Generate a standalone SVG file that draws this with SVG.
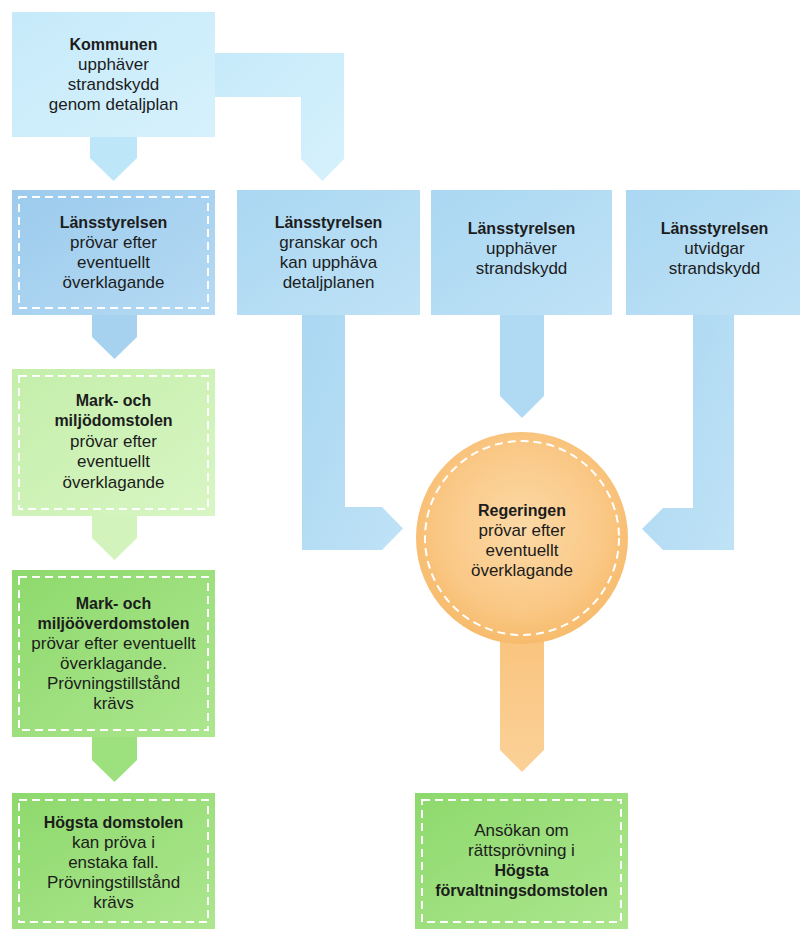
<svg xmlns="http://www.w3.org/2000/svg" width="800" height="929" viewBox="0 0 800 929">
<defs>
<linearGradient id="gKom" x1="0" y1="0" x2="1" y2="1"><stop offset="0" stop-color="#c6eafa"/><stop offset="1" stop-color="#d6f1fc"/></linearGradient>
<linearGradient id="gLan" x1="0" y1="0" x2="1" y2="1"><stop offset="0" stop-color="#aad7f2"/><stop offset="1" stop-color="#bfe2f6"/></linearGradient>
<linearGradient id="gLan1" x1="0" y1="0" x2="1" y2="1"><stop offset="0" stop-color="#9ccbed"/><stop offset="1" stop-color="#b5daf3"/></linearGradient>
<linearGradient id="gGreenL" x1="0" y1="0" x2="1" y2="1"><stop offset="0" stop-color="#c4eeaa"/><stop offset="1" stop-color="#d8f6c4"/></linearGradient>
<linearGradient id="gGreenD" x1="0" y1="0" x2="1" y2="1"><stop offset="0" stop-color="#8dd96c"/><stop offset="1" stop-color="#ade68f"/></linearGradient>
<radialGradient id="gOr" cx="0.5" cy="0.45" r="0.55"><stop offset="0" stop-color="#fcd9a6"/><stop offset="0.7" stop-color="#fac886"/><stop offset="1" stop-color="#f7bb6c"/></radialGradient>
<linearGradient id="gStem" x1="0" y1="0" x2="0" y2="1"><stop offset="0" stop-color="#f9c37c"/><stop offset="1" stop-color="#fbd198"/></linearGradient>
</defs>
<style>
text{font-family:"Liberation Sans",Arial,sans-serif;font-size:17px;fill:#1c1c1c;text-anchor:middle}
.b{font-weight:bold;font-size:16px}
.dash{fill:none;stroke:#ffffff;stroke-width:2;stroke-dasharray:8 5}
</style>
<rect width="800" height="929" fill="#ffffff"/>

<g id="connectors">
<path d="M215,53 H344 V159 L322.5,181 L301,159 V97 H215 Z" fill="url(#gKom)"/>
<polygon points="90,136 137,136 137,158 113.5,181 90,158" fill="#bde6f8"/>
<polygon points="92,315 137,315 137,337 114.5,359 92,337" fill="#a6d2ef"/>
<polygon points="92,515 137,515 137,538 114.5,560 92,538" fill="#d2f4bc"/>
<polygon points="92,737 137,737 137,760 114.5,782 92,760" fill="#9de07e"/>
<path d="M302,315 H345 V507 H382 L403,528.5 L382,550 H302 Z" fill="url(#gLan)"/>
<polygon points="500,315 544,315 544,396 522,418 500,396" fill="#b0d9f3"/>
<path d="M693,315 H734 V550 H663 L642,529 L663,508 H693 Z" fill="url(#gLan)"/>
<polygon points="500,625 544,625 544,750 522,772 500,750" fill="url(#gStem)"/>
</g>

<g id="kommunen">
<rect x="12" y="12" width="203" height="125" fill="url(#gKom)"/>
<text x="113.5" y="50" class="b">Kommunen</text>
<text x="113.5" y="70">upphäver</text>
<text x="113.5" y="90">strandskydd</text>
<text x="113.5" y="110">genom detaljplan</text>
</g>

<g id="lansstyrelsen-provar">
<rect x="12" y="190" width="203" height="125" fill="url(#gLan1)"/>
<rect x="19" y="197" width="189" height="111" class="dash"/>
<text x="113.5" y="227.5" class="b">Länsstyrelsen</text>
<text x="113.5" y="247.5">prövar efter</text>
<text x="113.5" y="267.5">eventuellt</text>
<text x="113.5" y="287.5">överklagande</text>
</g>

<g id="lansstyrelsen-granskar">
<rect x="237" y="190" width="183" height="125" fill="url(#gLan)"/>
<text x="328.5" y="227.5" class="b">Länsstyrelsen</text>
<text x="328.5" y="247.5">granskar och</text>
<text x="328.5" y="267.5">kan upphäva</text>
<text x="328.5" y="287.5">detaljplanen</text>
</g>

<g id="lansstyrelsen-upphaver">
<rect x="431" y="190" width="181" height="125" fill="url(#gLan)"/>
<text x="521.5" y="233.5" class="b">Länsstyrelsen</text>
<text x="521.5" y="253.5">upphäver</text>
<text x="521.5" y="273.5">strandskydd</text>
</g>

<g id="lansstyrelsen-utvidgar">
<rect x="626" y="190" width="174" height="125" fill="url(#gLan)"/>
<text x="714.5" y="233.5" class="b">Länsstyrelsen</text>
<text x="714.5" y="253.5">utvidgar</text>
<text x="714.5" y="273.5">strandskydd</text>
</g>

<g id="mark-och-miljodomstolen">
<rect x="12" y="369" width="203" height="147" fill="url(#gGreenL)"/>
<rect x="19" y="376" width="189" height="133" class="dash"/>
<text x="113.5" y="405.5" class="b">Mark- och</text>
<text x="113.5" y="426" class="b">miljödomstolen</text>
<text x="113.5" y="446.5">prövar efter</text>
<text x="113.5" y="467">eventuellt</text>
<text x="113.5" y="487.5">överklagande</text>
</g>

<g id="mark-och-miljooverdomstolen">
<rect x="12" y="570" width="203" height="167" fill="url(#gGreenD)"/>
<rect x="19" y="577" width="189" height="153" class="dash"/>
<text x="113.5" y="608.5" class="b">Mark- och</text>
<text x="113.5" y="628.5" class="b">miljööverdomstolen</text>
<text x="113.5" y="648.5">prövar efter eventuellt</text>
<text x="113.5" y="668.5">överklagande.</text>
<text x="113.5" y="688.5">Prövningstillstånd</text>
<text x="113.5" y="708.5">krävs</text>
</g>

<g id="hogsta-domstolen">
<rect x="12" y="793" width="203" height="136" fill="url(#gGreenD)"/>
<rect x="19" y="800" width="189" height="122" class="dash"/>
<text x="113.5" y="827.5" class="b">Högsta domstolen</text>
<text x="113.5" y="847.5">kan pröva i</text>
<text x="113.5" y="867.5">enstaka fall.</text>
<text x="113.5" y="887.5">Prövningstillstånd</text>
<text x="113.5" y="907.5">krävs</text>
</g>

<g id="regeringen">
<circle cx="522" cy="538" r="106" fill="url(#gOr)"/>
<circle cx="522" cy="538" r="97" class="dash"/>
<text x="522" y="515.5" class="b">Regeringen</text>
<text x="522" y="535.5">prövar efter</text>
<text x="522" y="555.5">eventuellt</text>
<text x="522" y="575.5">överklagande</text>
</g>

<g id="hogsta-forvaltningsdomstolen">
<rect x="415" y="793" width="213" height="136" fill="url(#gGreenD)"/>
<rect x="422" y="800" width="199" height="122" class="dash"/>
<text x="521.5" y="835.5">Ansökan om</text>
<text x="521.5" y="855.5">rättsprövning i</text>
<text x="521.5" y="875.5" class="b">Högsta</text>
<text x="521.5" y="895.5" class="b">förvaltningsdomstolen</text>
</g>
</svg>
